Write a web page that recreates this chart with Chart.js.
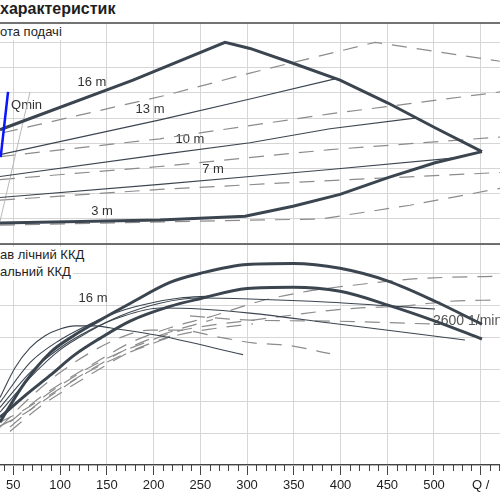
<!DOCTYPE html>
<html>
<head>
  <meta charset="utf-8">
  <title>Криві характеристик</title>
  <script src="https://cdn.jsdelivr.net/npm/chart.js"></script>
  <style>
    body { margin:0; background:#fff; font-family:"Liberation Sans", Arial, sans-serif; }
    #wrap { position:relative; width:500px; height:500px; overflow:hidden; }
    canvas { position:absolute; left:0; top:0; }
    .txt { position:absolute; left:0; font-size:13px; line-height:16px; color:#1e1e1e; white-space:nowrap; background:#fff; padding-right:2px; }
  </style>
</head>
<body>
<div id="wrap">
  <canvas id="pumpChart" width="500" height="500"></canvas>
  <div class="txt" style="top:0px;font-weight:bold;font-size:16px;line-height:17px">характеристик</div>
  <div class="txt" style="top:24px">ота подачі</div>
  <div class="txt" style="top:247px">ав лічний ККД</div>
  <div class="txt" style="top:264px">альний ККД</div>
</div>

<script>
  // x axis (Q)
  const qMajor  = [50, 100, 150, 200, 250, 300, 350, 400, 450, 500, 550];
  const qLabels = ['50', '100', '150', '200', '250', '300', '350', '400', '450', '500', 'Q /'];

  // top panel - head lines
  const envUpperQ = [35.8, 178.1, 276.5, 303.2, 349.2, 399.5, 450.8, 501.1, 551.3];
  const envUpperH = [4.54, 6.51, 8.01, 7.77, 7.18, 6.51, 5.60, 4.62, 3.67];
  const envLowerQ = [35.8, 206.9, 297.9, 349.2, 399.5, 450.8, 501.1, 551.3];
  const envLowerH = [0.83, 0.95, 1.10, 1.50, 1.97, 2.64, 3.23, 3.67];
  const h13Q = [35.8, 206.9, 303.2, 394.1];
  const h13H = [3.55, 4.93, 5.76, 6.56];
  const h10Q = [35.8, 206.9, 303.2, 388.8, 481.8];
  const h10H = [2.68, 3.55, 4.02, 4.58, 5.01];
  const h7Q  = [35.8, 206.9, 303.2, 388.8, 525.7];
  const h7H  = [1.85, 2.37, 2.68, 2.96, 3.43];
  const dTopQ = [39.0, 75.4, 214.4, 303.2, 436.9, 570.6];
  const dTopH = [4.42, 4.73, 5.92, 6.79, 8.01, 7.26];
  const d2Q = [35.8, 206.9, 388.8, 570.6];
  const d2H = [3.47, 4.18, 5.17, 6.04];
  const d3Q = [35.8, 206.9, 388.8, 570.6];
  const d3H = [2.56, 3.08, 3.75, 4.25];
  const d4Q = [35.8, 206.9, 388.8, 570.6];
  const d4H = [1.74, 2.17, 2.52, 2.84];
  const d5Q = [35.8, 303.2, 378.1, 474.3, 570.6];
  const d5H = [0.75, 0.95, 0.99, 1.54, 2.21];
  const greyQ = [35.8, 67.9];
  const greyH = [0.90, 6.04];
  const qminQ = [36.5, 44.4];
  const qminH = [3.45, 6.04];

  const headLabelText = ['16 m', '13 m', '10 m', '7 m', '3 m'];
  const headLabelQ    = [134.2, 196.3, 239.0, 263.6, 144.9];
  const headLabelH    = [6.43, 5.33, 4.14, 2.96, 1.30];
  const qminLabelQ = 47.6, qminLabelH = 5.52;

  // bottom panel - efficiency
  const t1Q = [35.8, 62.6, 89.3, 116.0, 142.8, 174.9, 217.6, 249.7, 300.0, 349.2, 399.5, 450.8, 501.1, 551.3];
  const t1E = [13.4, 25.8, 35.1, 40.7, 45.3, 50.5, 57.1, 59.9, 62.7, 63.0, 61.5, 57.5, 51.2, 44.0];
  const t2Q = [35.8, 62.6, 89.3, 116.0, 142.8, 174.9, 217.6, 249.7, 300.0, 349.2, 399.5, 450.8, 501.1, 551.3];
  const t2E = [14.9, 21.7, 28.0, 34.5, 39.6, 45.0, 49.6, 52.0, 55.2, 55.6, 54.3, 50.0, 45.0, 39.4];
  const peakQ = [35.8, 51.9, 67.9, 84.0, 100, 116.0, 137.4, 153.5, 206.9, 295.7];
  const peakE = [21.1, 30.4, 36.6, 40.4, 42.5, 43.5, 43.5, 42.9, 40.4, 34.5];
  const laQ = [35.8, 67.9, 100, 132.1, 164.2, 206.9, 249.7, 303.2, 388.8, 533.1];
  const laE = [18.0, 28.9, 36.6, 42.2, 46.2, 49.1, 48.8, 47.5, 44.4, 39.1];
  const lbQ = [35.8, 67.9, 100, 132.1, 164.2, 206.9, 249.7, 303.2, 388.8, 501.1];
  const lbE = [16.5, 27.3, 36.0, 41.9, 46.6, 50.6, 52.2, 51.9, 50.9, 48.8];
  const lcQ = [35.8, 67.9, 100, 132.1, 164.2, 196.2, 228.3, 260.4];
  const lcE = [19.6, 32.0, 39.1, 44.1, 48.1, 50.6, 52.2, 52.8];
  const daQ = [46.5, 78.6, 110.7, 142.8, 174.9, 217.6, 263.6, 313.9, 364.2, 413.4, 474.3, 517.1, 570.6];
  const daE = [13.4, 21.1, 27.3, 32.9, 38.2, 42.9, 46.6, 51.2, 54.3, 56.2, 58.1, 58.7, 59.0];
  const dfQ = [46.5, 78.6, 110.7, 142.8, 174.9, 217.6, 263.6];
  const dfE = [11.9, 19.7, 25.9, 31.5, 36.8, 41.6, 45.5];
  const dgQ = [46.5, 78.6, 110.7, 142.8, 174.9, 217.6];
  const dgE = [10.5, 18.2, 24.4, 30.1, 35.4, 40.3];
  const dbQ = [35.8, 62.6, 96.8, 128.9, 160.9, 193.0, 223.0, 263.6, 306.4, 349.2, 381.3, 420.9, 466.8, 517.1, 570.6];
  const dbE = [13.4, 17.4, 24.2, 30.1, 34.8, 38.5, 41.6, 43.8, 45.3, 46.9, 48.1, 49.1, 49.7, 51.2, 51.6];
  const dhQ = [35.8, 62.6, 96.8, 128.9, 160.9, 193.0, 223.0, 263.6, 306.4];
  const dhE = [12.2, 16.2, 23.0, 28.9, 33.6, 37.3, 40.4, 42.6, 44.1];
  const dcQ = [35.8, 67.9, 100, 132.1, 164.2, 196.2, 228.3, 267.9, 306.4, 346.0, 388.8];
  const dcE = [11.8, 21.1, 28.9, 35.1, 39.8, 42.2, 42.2, 40.1, 38.2, 37.3, 34.8];
  const deQ = [239.0, 303.2, 388.8, 495.7];
  const deE = [46.6, 45.3, 45.0, 44.1];

  const effLabelText = ['16 m', '2600 1/min'];
  const effLabelQ    = [135.3, 498.9];
  const effLabelE    = [52.2, 45.0];

  const DARK = '#3b4550';
  const DASH = '#8c8c8c';
  const GRID = '#d6d6d6';
  const FONT = '"Liberation Sans", Arial, sans-serif';

  function pts(xs, ys) {
    return xs.map((x, i) => ({ x: x, y: ys[i] }));
  }

  function line(xs, ys, axis, kind) {
    const ds = { data: pts(xs, ys), yAxisID: axis, pointRadius: 0, fill: false };
    if (kind === 'thick') { ds.borderColor = DARK; ds.borderWidth = 3; }
    if (kind === 'thin')  { ds.borderColor = DARK; ds.borderWidth = 1.1; }
    if (kind === 'dash')  { ds.borderColor = DASH; ds.borderWidth = 1.2; ds.borderDash = [15, 10]; }
    if (kind === 'grey')  { ds.borderColor = '#b8b8b8'; ds.borderWidth = 1; }
    if (kind === 'blue')  { ds.borderColor = '#0a14ff'; ds.borderWidth = 2.5; }
    if (axis === 'yEff') { ds.cubicInterpolationMode = 'monotone'; }
    return ds;
  }

  const panelDecor = {
    id: 'panelDecor',
    beforeDatasetsDraw(chart) {
      const ctx = chart.ctx;
      const x = chart.scales.x, yh = chart.scales.yHead, ye = chart.scales.yEff;
      ctx.save();
      ctx.font = '13px ' + FONT;
      ctx.textBaseline = 'middle';
      ctx.fillStyle = '#333';
      ctx.textAlign = 'center';
      headLabelText.forEach((t, i) => {
        ctx.fillText(t, x.getPixelForValue(headLabelQ[i]), yh.getPixelForValue(headLabelH[i]));
      });
      ctx.fillText(effLabelText[0], x.getPixelForValue(effLabelQ[0]), ye.getPixelForValue(effLabelE[0]));
      ctx.textAlign = 'left';
      ctx.fillText('Qmin', x.getPixelForValue(qminLabelQ), yh.getPixelForValue(qminLabelH));
      ctx.fillStyle = '#555';
      ctx.font = '14px ' + FONT;
      ctx.fillText(effLabelText[1], x.getPixelForValue(effLabelQ[1]), ye.getPixelForValue(effLabelE[1]));
      ctx.restore();
    },
    afterDraw(chart) {
      const ctx = chart.ctx;
      const x = chart.scales.x, yh = chart.scales.yHead;
      const area = chart.chartArea;
      ctx.save();
      ctx.strokeStyle = '#444';
      ctx.lineWidth = 1.3;
      [yh.top, yh.bottom].forEach(py => {
        ctx.beginPath();
        ctx.moveTo(area.left, py);
        ctx.lineTo(area.right, py);
        ctx.stroke();
      });
      // minor ticks every 10
      ctx.lineWidth = 1;
      for (let v = 40; v <= 570; v += 10) {
        if (v % 50 === 0) continue;
        const px = Math.round(x.getPixelForValue(v)) + 0.5;
        ctx.beginPath();
        ctx.moveTo(px, x.top);
        ctx.lineTo(px, x.top + 6);
        ctx.stroke();
      }
      ctx.restore();
    }
  };

  const datasets = [
    line(qminQ, qminH, 'yHead', 'blue'),
    line(envUpperQ, envUpperH, 'yHead', 'thick'),
    line(envLowerQ, envLowerH, 'yHead', 'thick'),
    line(t1Q, t1E, 'yEff', 'thick'),
    line(t2Q, t2E, 'yEff', 'thick'),
    line(h13Q, h13H, 'yHead', 'thin'),
    line(h10Q, h10H, 'yHead', 'thin'),
    line(h7Q, h7H, 'yHead', 'thin'),
    line(peakQ, peakE, 'yEff', 'thin'),
    line(laQ, laE, 'yEff', 'thin'),
    line(lbQ, lbE, 'yEff', 'thin'),
    line(lcQ, lcE, 'yEff', 'thin'),
    line(greyQ, greyH, 'yHead', 'grey'),
    line(dTopQ, dTopH, 'yHead', 'dash'),
    line(d2Q, d2H, 'yHead', 'dash'),
    line(d3Q, d3H, 'yHead', 'dash'),
    line(d4Q, d4H, 'yHead', 'dash'),
    line(d5Q, d5H, 'yHead', 'dash'),
    line(daQ, daE, 'yEff', 'dash'),
    line(dfQ, dfE, 'yEff', 'dash'),
    line(dgQ, dgE, 'yEff', 'dash'),
    line(dbQ, dbE, 'yEff', 'dash'),
    line(dhQ, dhE, 'yEff', 'dash'),
    line(dcQ, dcE, 'yEff', 'dash'),
    line(deQ, deE, 'yEff', 'dash')
  ];

  new Chart(document.getElementById('pumpChart'), {
    type: 'line',
    data: { datasets: datasets },
    plugins: [panelDecor],
    options: {
      responsive: false,
      animation: false,
      layout: { padding: { top: 23, bottom: 3.4, left: 0, right: 0 } },
      plugins: { legend: { display: false }, tooltip: { enabled: false } },
      scales: {
        x: {
          type: 'linear',
          min: 35.8,
          max: 570.6,
          afterBuildTicks: s => { s.ticks = qMajor.map(v => ({ value: v })); },
          ticks: {
            autoSkip: false,
            maxRotation: 0,
            padding: 3,
            color: '#1e1e1e',
            font: { size: 13, family: FONT },
            callback: (v) => qLabels[qMajor.indexOf(v)]
          },
          grid: { color: GRID, tickColor: '#444', tickLength: 10 },
          border: { color: '#444', width: 1.3 }
        },
        yEff: {
          type: 'linear',
          position: 'left',
          stack: 'panels',
          stackWeight: 1,
          min: 0,
          max: 69.1,
          afterBuildTicks: s => { s.ticks = [0, 10, 20, 30, 40, 50, 60].map(v => ({ value: v })); },
          ticks: { display: false },
          grid: { color: GRID, drawTicks: false },
          border: { display: false }
        },
        yHead: {
          type: 'linear',
          position: 'left',
          stack: 'panels',
          stackWeight: 1,
          min: 0,
          max: 8.78,
          afterBuildTicks: s => { s.ticks = [0, 1, 2, 3, 4, 5, 6, 7, 8].map(v => ({ value: v })); },
          ticks: { display: false },
          grid: { color: GRID, drawTicks: false },
          border: { display: false }
        }
      }
    }
  });
</script>
</body>
</html>
